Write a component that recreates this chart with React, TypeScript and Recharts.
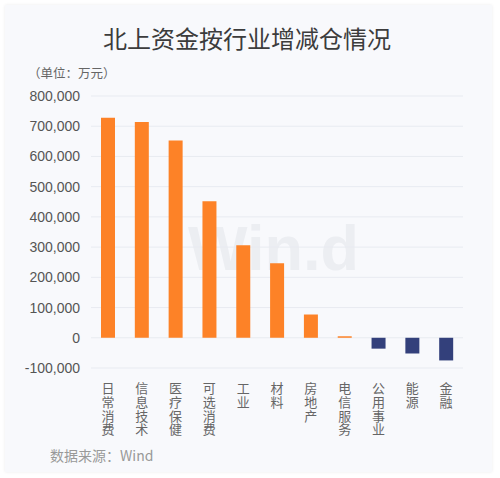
import React from 'react';
import { BarChart, Bar, XAxis, YAxis, CartesianGrid, Cell } from 'recharts';

const industries = ['日常消费', '信息技术', '医疗保健', '可选消费', '工业', '材料', '房地产', '电信服务', '公用事业', '能源', '金融'];
const netFlow = [728000, 714000, 653000, 452000, 306000, 247000, 77000, 5000, -36000, -52000, -75000];
const yTicks = [-100000, 0, 100000, 200000, 300000, 400000, 500000, 600000, 700000, 800000];

const chartData = industries.map((name, i) => ({ name, value: netFlow[i] }));

const CJK = '"Noto Sans CJK SC", "Noto Sans", sans-serif';

function YTick(props: any) {
    const { y, payload } = props;
    return (
        <text x={80} y={y} dy={5} textAnchor="end" fill="#555" fontSize={14} fontFamily='"Liberation Sans", Arial, sans-serif'>
            {Number(payload.value).toLocaleString('en-US')}
        </text>
    );
}

// vertical category labels
function XTick(props: any) {
    const { x, y, payload } = props;
    return (
        <text x={x} y={y + 6} fill="#666" fontSize={13} fontFamily={CJK}
            style={{ writingMode: 'vertical-rl', letterSpacing: 0.6 }}>
            {payload.value}
        </text>
    );
}

export default function App() {
    return (
        <div style={{ position: 'fixed', left: 0, top: 0, width: 500, height: 478, background: '#fff', overflow: 'hidden' }}>
            <div style={{ position: 'absolute', left: 5, top: 5, width: 487, height: 467, background: '#f8f9fc', boxShadow: '0 0 3px rgba(0,0,0,0.08)' }} />
            <div style={{ position: 'absolute', left: 188, top: 212, fontFamily: '"Liberation Sans", Arial, sans-serif', fontWeight: 'bold', fontSize: 63, color: '#eceef2' }}>
                Win.d
            </div>
            <div style={{ position: 'absolute', left: 0, top: 0 }}>
                <BarChart width={500} height={478} data={chartData} margin={{ top: 96, right: 37, left: 8, bottom: 0 }}>
                    <text x={247} y={48} textAnchor="middle" fill="#3c3c3c" fontSize={24} fontFamily={CJK}>北上资金按行业增减仓情况</text>
                    <text x={28} y={78} fill="#666" fontSize={12.5} fontFamily={CJK}>（单位：万元）</text>
                    <text x={50} y={461} fill="#999" fontSize={14} fontFamily={CJK}>数据来源：Wind</text>
                    <CartesianGrid stroke="#e8ebf1" vertical={false} />
                    <XAxis dataKey="name" axisLine={false} tickLine={false} height={110} interval={0} tick={<XTick />} />
                    <YAxis width={83} domain={[-100000, 800000]} ticks={yTicks} axisLine={false} tickLine={false} tick={<YTick />} interval={0} />
                    <Bar dataKey="value" barSize={14} isAnimationActive={false}>
                        {chartData.map((d, i) => (
                            <Cell key={`c-${i}`} fill={d.value >= 0 ? '#fd8227' : '#33407b'} />
                        ))}
                    </Bar>
                </BarChart>
            </div>
        </div>
    );
}
